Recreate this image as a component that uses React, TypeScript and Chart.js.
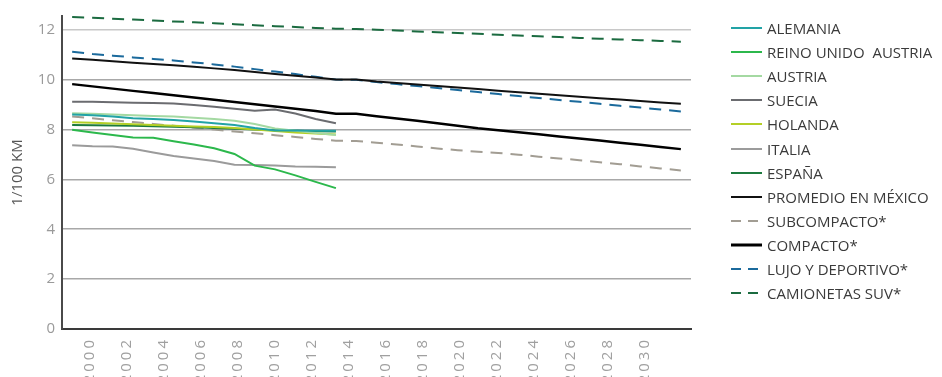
import React, { useEffect, useRef } from 'react';
import { Chart, registerables } from 'chart.js';

Chart.register(...registerables);

// visible category axis (every other year labelled)
const axisYears = [
  1999, 2000, 2001, 2002, 2003, 2004, 2005, 2006, 2007, 2008, 2009, 2010, 2011, 2012, 2013, 2014, 2015,
  2016, 2017, 2018, 2019, 2020, 2021, 2022, 2023, 2024, 2025, 2026, 2027, 2028, 2029, 2030, 2031, 2032,
];
// years of the plotted series
const dataYears = [
  2000, 2001, 2002, 2003, 2004, 2005, 2006, 2007, 2008, 2009, 2010, 2011, 2012, 2013, 2014, 2015,
  2016, 2017, 2018, 2019, 2020, 2021, 2022, 2023, 2024, 2025, 2026, 2027, 2028, 2029, 2030,
];
const yTicks = [0, 2, 4, 6, 8, 10, 12];

const alemania = [8.6, 8.57, 8.52, 8.45, 8.42, 8.38, 8.32, 8.25, 8.18, 8.06, 7.96, 7.96, 7.95, 7.95];
const reinoUnido = [7.99, 7.88, 7.78, 7.68, 7.67, 7.53, 7.4, 7.25, 7.02, 6.55, 6.4, 6.16, 5.9, 5.65];
const austria = [8.65, 8.63, 8.6, 8.57, 8.54, 8.52, 8.47, 8.42, 8.35, 8.22, 8.04, 7.95, 7.86, 7.78];
const suecia = [9.11, 9.11, 9.09, 9.07, 9.06, 9.04, 8.98, 8.91, 8.83, 8.75, 8.8, 8.64, 8.42, 8.25];
const holanda = [8.29, 8.27, 8.24, 8.21, 8.18, 8.15, 8.12, 8.1, 8.06, 8.0, 7.94, 7.88, 7.84, 7.8];
const italia = [7.37, 7.33, 7.32, 7.23, 7.08, 6.94, 6.84, 6.74, 6.59, 6.58, 6.56, 6.52, 6.51, 6.49];
const espana = [8.18, 8.17, 8.16, 8.15, 8.13, 8.11, 8.09, 8.06, 8.03, 8.0, 7.97, 7.95, 7.93, 7.92];
const promedioMexico = [
  10.85, 10.8, 10.74, 10.68, 10.63, 10.58, 10.52, 10.45, 10.38, 10.3, 10.22, 10.15, 10.08, 10.0, 10.0, 9.92,
  9.86, 9.8, 9.74, 9.68, 9.62, 9.55, 9.49, 9.43, 9.37, 9.31, 9.25, 9.2, 9.14, 9.08, 9.03,
];
const subcompacto = [
  8.52, 8.45, 8.37, 8.3, 8.22, 8.15, 8.07, 8.0, 7.92, 7.85, 7.77, 7.7, 7.62, 7.55, 7.54, 7.47,
  7.4, 7.32, 7.24, 7.17, 7.11, 7.06, 6.99, 6.91, 6.84, 6.77, 6.69, 6.61, 6.52, 6.44, 6.36,
];
const compacto = [
  9.82, 9.73, 9.64, 9.55, 9.46, 9.37, 9.28, 9.19, 9.1, 9.01, 8.92, 8.83, 8.74, 8.63, 8.63, 8.53,
  8.44, 8.35, 8.25, 8.15, 8.05, 7.97, 7.89, 7.81, 7.72, 7.64, 7.56, 7.47, 7.39, 7.3, 7.21,
];
const lujoDeportivo = [
  11.12, 11.03, 10.96, 10.89, 10.83, 10.77, 10.69, 10.61, 10.52, 10.42, 10.32, 10.22, 10.11, 10.0, 9.99, 9.9,
  9.82, 9.74, 9.66, 9.58, 9.5, 9.42, 9.34, 9.26, 9.18, 9.11, 9.03, 8.95, 8.88, 8.8, 8.72,
];
const camionetasSuv = [
  12.51, 12.48, 12.44, 12.41, 12.37, 12.33, 12.3, 12.26, 12.22, 12.18, 12.14, 12.11, 12.07, 12.04, 12.03, 12.0,
  11.97, 11.93, 11.9, 11.87, 11.84, 11.8, 11.77, 11.74, 11.71, 11.67, 11.64, 11.61, 11.58, 11.55, 11.52,
];

const FONT = "'Open Sans', 'Noto Sans', sans-serif";
const DASH = [12, 8];

const series = [
  { label: 'ALEMANIA', data: alemania, color: '#22a3a6', width: 2, dash: [] as number[] },
  { label: 'REINO UNIDO  AUSTRIA', data: reinoUnido, color: '#2cb84c', width: 2, dash: [] },
  { label: 'AUSTRIA', data: austria, color: '#a4d9a2', width: 2, dash: [] },
  { label: 'SUECIA', data: suecia, color: '#6b6c70', width: 2, dash: [] },
  { label: 'HOLANDA', data: holanda, color: '#b4cf26', width: 2, dash: [] },
  { label: 'ITALIA', data: italia, color: '#9b9b9b', width: 2, dash: [] },
  { label: 'ESPAÑA', data: espana, color: '#1c7a3e', width: 2, dash: [] },
  { label: 'PROMEDIO EN MÉXICO', data: promedioMexico, color: '#111111', width: 2, dash: [] },
  { label: 'SUBCOMPACTO*', data: subcompacto, color: '#a29d93', width: 2, dash: DASH },
  { label: 'COMPACTO*', data: compacto, color: '#000000', width: 2.4, dash: [] },
  { label: 'LUJO Y DEPORTIVO*', data: lujoDeportivo, color: '#1b6a9c', width: 2, dash: DASH },
  { label: 'CAMIONETAS SUV*', data: camionetasSuv, color: '#1b6b40', width: 2, dash: DASH },
];

const CANVAS_H = 400;
const AXIS_BOTTOM = 329;

// widen the spacing of the rotated year labels like the original
const spacedLabels = {
  id: 'spacedLabels',
  afterLayout(chart: any) {
    const sc = chart.scales.x;
    if (!sc || sc.__spaced) return;
    const orig = sc.drawLabels;
    sc.drawLabels = function (area: any) {
      const ctx = chart.ctx;
      ctx.save();
      try {
        (ctx as any).letterSpacing = '3px';
      } catch (e) {}
      orig.call(this, area);
      ctx.restore();
    };
    sc.__spaced = true;
  },
};

export default function App() {
  const ref = useRef<HTMLCanvasElement | null>(null);

  useEffect(() => {
    if (!ref.current) return;
    const chart = new Chart(ref.current, {
      type: 'line',
      plugins: [spacedLabels],
      data: {
        datasets: series.map((s) => ({
          label: s.label,
          data: s.data,
          borderColor: s.color,
          backgroundColor: s.color,
          borderWidth: s.width,
          borderDash: s.dash,
          pointRadius: 0,
          tension: 0,
          fill: false,
          xAxisID: 'xd',
          yAxisID: 'y',
        })),
      },
      options: {
        animation: false,
        responsive: false,
        maintainAspectRatio: false,
        layout: { padding: { left: 0, right: 251, top: 10, bottom: 0 } },
        plugins: { legend: { display: false }, tooltip: { enabled: false } },
        scales: {
          x: {
            type: 'category',
            labels: axisYears.map(String),
            offset: true,
            position: 'bottom',
            grid: { display: false, drawTicks: false },
            border: { display: true, color: '#3a3a3a', width: 2 },
            ticks: {
              autoSkip: false,
              maxRotation: 90,
              minRotation: 90,
              padding: 8,
              color: '#a0a0a0',
              font: { family: FONT, size: 15 },
              callback: (_v: any, i: number) => {
                const yr = axisYears[i];
                return yr % 2 === 0 && yr <= 2030 ? String(yr) : '';
              },
            },
            afterFit: (s: any) => {
              s.height = CANVAS_H - AXIS_BOTTOM;
            },
          },
          xd: {
            type: 'category',
            labels: dataYears.map(String),
            offset: true,
            display: false,
          },
          y: {
            type: 'linear',
            min: 0,
            max: 12.55,
            afterBuildTicks: (s: any) => {
              s.ticks = yTicks.map((v) => ({ value: v }));
            },
            afterFit: (s: any) => {
              s.width = 62;
            },
            ticks: {
              padding: 7,
              color: '#9a9a9a',
              font: { family: FONT, size: 15 },
            },
            grid: {
              drawTicks: false,
              lineWidth: 1.5,
              color: (ctx: any) => (ctx.tick && ctx.tick.value === 12 ? '#c8c8c8' : '#a8a8a8'),
            },
            border: { display: true, color: '#4a4a4a', width: 2 },
            title: {
              display: true,
              text: '1/100 KM',
              color: '#555555',
              font: { family: FONT, size: 15 },
              padding: { top: 9, bottom: 0 },
            },
          },
        },
      },
    });
    return () => chart.destroy();
  }, []);

  return (
    <div
      style={{
        position: 'absolute',
        left: 0,
        top: 0,
        width: 942,
        height: 377,
        overflow: 'hidden',
        background: '#fff',
      }}
    >
      <canvas ref={ref} width={942} height={CANVAS_H} style={{ display: 'block' }} />
      {series.map((s, i) => (
        <div
          key={s.label}
          style={{
            position: 'absolute',
            left: 731,
            top: 18 + i * 24.1,
            height: 20,
            display: 'flex',
            alignItems: 'center',
            whiteSpace: 'pre',
            fontFamily: FONT,
            fontSize: 15,
            color: '#3a3a3a',
          }}
        >
          <svg width={31} height={4} style={{ marginRight: 5, flex: 'none' }}>
            <line
              x1={0}
              y1={2}
              x2={31}
              y2={2}
              stroke={s.color}
              strokeWidth={s.label === 'COMPACTO*' ? 3 : 2}
              strokeDasharray={s.dash.length ? '10 7' : undefined}
            />
          </svg>
          <span>{s.label}</span>
        </div>
      ))}
    </div>
  );
}
